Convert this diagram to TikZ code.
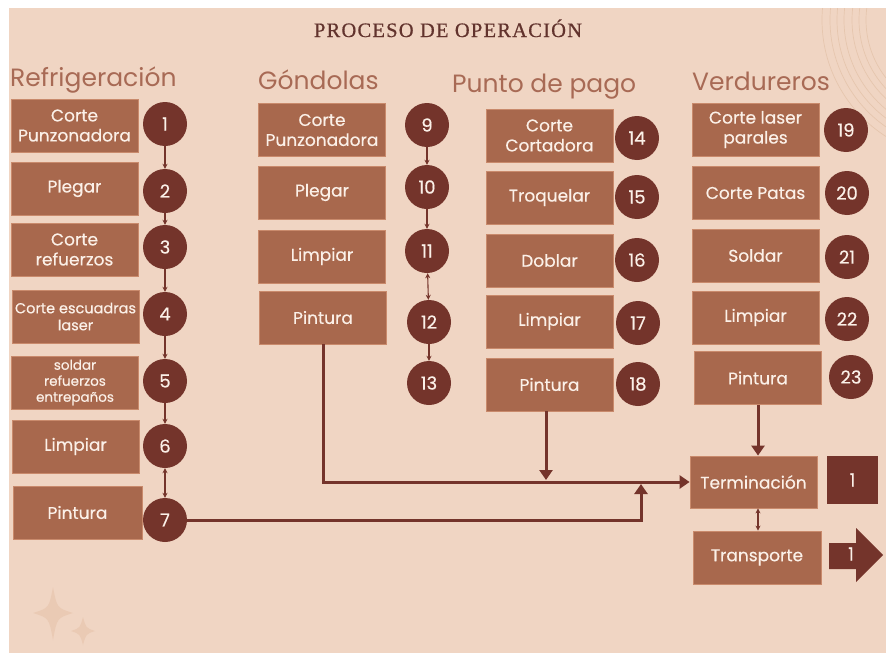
\documentclass[tikz,border=0pt]{standalone}
\usepackage{fontspec}
\setmainfont{Poppins}
\newfontfamily\titlefont[LetterSpace=6,FakeBold=0.6]{Liberation Serif}
\newfontfamily\boxfont[FakeBold=0.4]{Poppins}
\usetikzlibrary{arrows.meta}
\definecolor{bgc}{HTML}{F0D5C3}
\definecolor{boxc}{HTML}{A8684D}
\definecolor{boxline}{HTML}{C98A6C}
\definecolor{circc}{HTML}{74342B}
\definecolor{headc}{HTML}{A86A55}
\definecolor{titlec}{HTML}{62332D}
\definecolor{txtc}{HTML}{FBF0E8}
\definecolor{decoc}{HTML}{E6C6AE}
\definecolor{starc}{HTML}{EACAB4}
\begin{document}
\begin{tikzpicture}[x=1pt,y=-1pt,
 stepbox/.style={rectangle, fill=boxc, draw=boxline, line width=0.8pt, minimum width=127pt, minimum height=53pt, text=txtc, align=center, font=\boxfont\fontsize{17}{20}\selectfont, inner sep=0pt},
 num/.style={circle, fill=circc, minimum size=44pt, inner sep=0pt, text=txtc, font=\boxfont\fontsize{18}{20}\selectfont},
 head/.style={text=headc, font=\fontsize{25}{28}\selectfont, anchor=base west, inner sep=0pt},
 link/.style={draw=circc, line width=1.1pt, -{Stealth[length=5pt,width=5pt]}},
 dlink/.style={draw=circc, line width=1.1pt, {Stealth[length=5pt,width=5pt]}-{Stealth[length=5pt,width=5pt]}},
 flow/.style={draw=circc, line width=3pt, -{Triangle[length=10pt,width=13pt]}},
 star/.style={fill=starc}
]
\useasboundingbox (0,0) rectangle (886,653);
\fill[white] (0,0) rectangle (886,653);
\fill[bgc] (9,8) rectangle (886,653);
% decorative arcs
\begin{scope}
\clip (9,8) rectangle (886,653);
\foreach \r in {94,101,108,116,123,130,138}
  \draw[decoc, line width=0.7pt] (960,20) circle (\r pt);
\end{scope}
% sparkles
\fill[star] (53,587) .. controls (57,608) .. (73,613) .. controls (57,618) .. (53,640) .. controls (49,618) .. (33,613) .. controls (49,608) .. cycle;
\fill[star] (83,617) .. controls (86,628) .. (95,631) .. controls (86,634) .. (83,645) .. controls (80,634) .. (71,631) .. controls (80,628) .. cycle;

% title and headers
\node[text=titlec, font=\titlefont\fontsize{20.5}{22}\selectfont, anchor=base, inner sep=0pt] (title) at (448,37) {PROCESO DE OPERACIÓN};
\node[head] (h1) at (10,86) {Refrigeración};
\node[head] (h2) at (258,89) {Góndolas};
\node[head] (h3) at (452,92) {Punto de pago};
\node[head] (h4) at (692,90) {Verdureros};

% Refrigeracion
\node[stepbox] (r1) at (74.5,125.5) {Corte\\Punzonadora};
\node[stepbox] (r2) at (74.5,188.5) {Plegar};
\node[stepbox] (r3) at (74.5,249.5) {Corte\\refuerzos};
\node[stepbox, font=\boxfont\fontsize{14.5}{17}\selectfont] (r4) at (75.5,316.5) {Corte escuadras\\laser};
\node[stepbox, font=\boxfont\fontsize{13.5}{16}\selectfont] (r5) at (75,382.5) {soldar\\refuerzos\\entrepaños};
\node[stepbox] (r6) at (75.5,446.5) {Limpiar};
\node[stepbox, minimum width=129pt] (r7) at (77.5,512.5) {Pintura};
\node[num] (c1) at (165,124) {1};
\node[num] (c2) at (165,191) {2};
\node[num] (c3) at (165,247) {3};
\node[num] (c4) at (165,314) {4};
\node[num] (c5) at (165,381) {5};
\node[num] (c6) at (165,446) {6};
\node[num] (c7) at (165,520) {7};
\draw[link] (c1) -- (c2);
\draw[link] (c2) -- (c3);
\draw[link] (c3) -- (c4);
\draw[link] (c4) -- (c5);
\draw[link] (c5) -- (c6);
\draw[dlink] (c6) -- (c7);

% Gondolas
\node[stepbox] (g1) at (322,130) {Corte\\Punzonadora};
\node[stepbox] (g2) at (322,192.5) {Plegar};
\node[stepbox] (g3) at (322,256.5) {Limpiar};
\node[stepbox] (g4) at (323,317.5) {Pintura};
\node[num] (c9) at (427,125) {9};
\node[num] (c10) at (427,187) {10};
\node[num] (c11) at (427,251) {11};
\node[num] (c12) at (429,322) {12};
\node[num] (c13) at (429,383) {13};
\draw[link] (c9) -- (c10);
\draw[link] (c10) -- (c11);
\draw[dlink] (c11) -- (c12);
\draw[link] (c12) -- (c13);

% Punto de pago
\node[stepbox] (p1) at (549.5,135.5) {Corte\\Cortadora};
\node[stepbox] (p2) at (549.5,197.5) {Troquelar};
\node[stepbox] (p3) at (549.5,260.5) {Doblar};
\node[stepbox] (p4) at (549.5,321.5) {Limpiar};
\node[stepbox] (p5) at (549.5,384.5) {Pintura};
\node[num] (c14) at (637,138) {14};
\node[num] (c15) at (637,197) {15};
\node[num] (c16) at (637,260) {16};
\node[num] (c17) at (638,323) {17};
\node[num] (c18) at (638,384) {18};

% Verdureros
\node[stepbox] (v1) at (755.5,129.5) {Corte laser\\parales};
\node[stepbox] (v2) at (755.5,193) {Corte Patas};
\node[stepbox] (v3) at (755.5,255.5) {Soldar};
\node[stepbox] (v4) at (755.5,317.5) {Limpiar};
\node[stepbox] (v5) at (758,378) {Pintura};
\node[num] (c19) at (846,130) {19};
\node[num] (c20) at (847,193) {20};
\node[num] (c21) at (847,257) {21};
\node[num] (c22) at (847,319) {22};
\node[num] (c23) at (851,377) {23};

% Terminacion / Transporte
\node[stepbox, minimum height=52pt] (term) at (753.5,482) {Terminación};
\node[stepbox, minimum width=128pt] (trans) at (757,557.5) {Transporte};
\node[rectangle, fill=circc, minimum width=51pt, minimum height=48pt, inner sep=0pt, text=txtc, font=\boxfont\fontsize{18}{20}\selectfont] (sq) at (852.5,480) {1};
\fill[circc] (829,543) -- (856,543) -- (856,528) -- (883,555) -- (856,582) -- (856,569) -- (829,569) -- cycle;
\node[text=txtc, font=\boxfont\fontsize{18}{20}\selectfont, inner sep=0pt] (arrnum) at (851,554) {1};

% flow connectors
\coordinate (j1) at (641,520);
\coordinate (j1t) at (641,484);
\draw[flow] (c7.east) -- (j1) -- (j1t);
\draw[flow] (g4.south) |- (term.west);
\coordinate (pt) at (546,480);
\draw[flow] (p5.south -| pt) -- (pt);
\coordinate (vx) at (758,0);
\draw[flow] (v5.south) -- (v5.south |- term.north);
\draw[dlink] (term.south -| vx) -- (trans.north -| vx);
\end{tikzpicture}
\end{document}
